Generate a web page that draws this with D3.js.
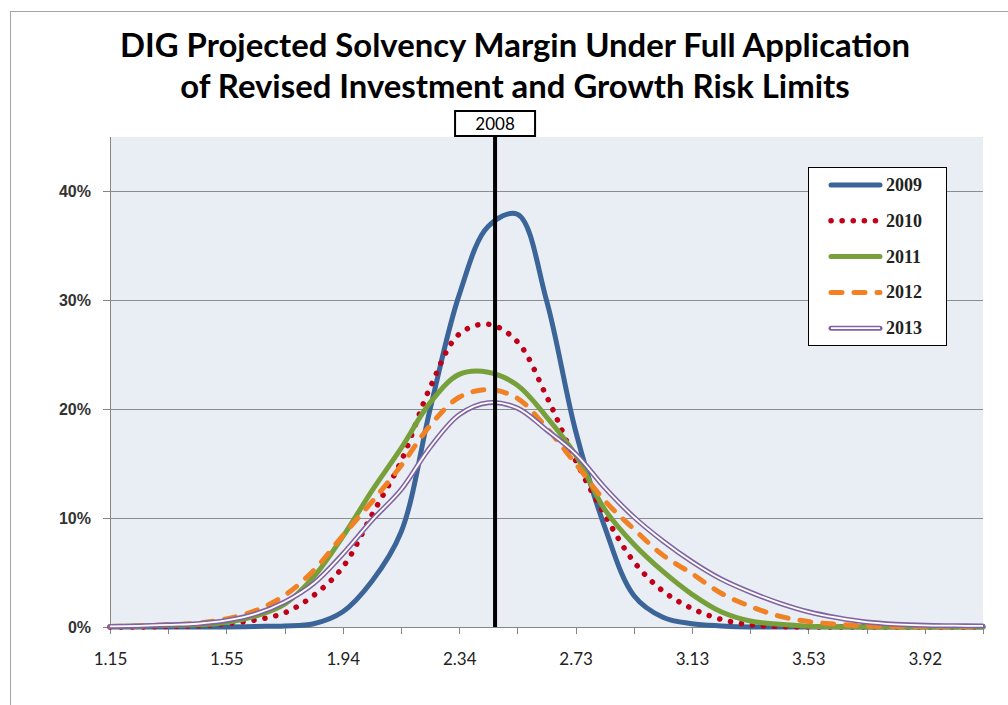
<!DOCTYPE html>
<html>
<head>
<meta charset="utf-8">
<style>
body { margin: 0; background: #fff; }
svg { display: block; }
.axis path, .axis line { stroke: #868686; shape-rendering: crispEdges; }
</style>
</head>
<body>
<svg id="chart" width="1008" height="705"></svg>
<script src="https://cdn.jsdelivr.net/npm/d3@7"></script>
<script>
// category positions on the x axis (every second one has a tick, every fourth a label)
var xValues = [1.15, 1.249, 1.348, 1.447, 1.546, 1.645, 1.744, 1.843, 1.942, 2.041,
  2.14, 2.239, 2.338, 2.437, 2.536, 2.635, 2.734, 2.833, 2.932, 3.031,
  3.13, 3.229, 3.328, 3.427, 3.526, 3.625, 3.724, 3.823, 3.922, 4.021, 4.12];
var xLabels = ["1.15", "1.55", "1.94", "2.34", "2.73", "3.13", "3.53", "3.92"];
var yTicks = [0, 10, 20, 30, 40];

var years = ["2009", "2010", "2011", "2012", "2013"];

// percent values
var v2009 = [0, 0, 0, 0, 0, 0.05, 0.1, 0.3, 1.4, 4.2,
  8.7, 20, 30.5, 36.8, 37.9, 30, 18, 9.2, 2.9, 0.9,
  0.3, 0.1, 0, 0, 0, 0, 0, 0, 0, 0, 0];
var v2010 = [0, 0, 0.05, 0.1, 0.3, 0.65, 1.3, 2.9, 5.5, 10.3,
  15.2, 22, 26.9, 27.8, 26.2, 21.2, 15.3, 10.3, 6.0, 3.3,
  1.7, 0.7, 0.2, 0.05, 0, 0, 0, 0, 0, 0, 0];
var v2011 = [0.05, 0.1, 0.15, 0.2, 0.4, 1.0, 2.1, 4.6, 8.3, 12.5,
  16.4, 20.6, 23.2, 23.4, 22.2, 19.3, 15.8, 10.8, 7.6, 5.1,
  3.0, 1.4, 0.55, 0.25, 0.08, 0.03, 0, 0, 0, 0, 0];
var v2012 = [0.05, 0.1, 0.2, 0.35, 0.75, 1.5, 2.9, 5.2, 8.4, 11.5,
  14.8, 18.5, 21.1, 21.8, 21.0, 18.3, 15.0, 11.6, 9.0, 6.6,
  4.9, 3.1, 1.9, 1.0, 0.5, 0.25, 0.1, 0.05, 0.05, 0.05, 0.05];
var v2013 = [0.05, 0.1, 0.2, 0.3, 0.6, 1.2, 2.3, 4.0, 6.7, 9.8,
  12.6, 16.5, 19.5, 20.6, 20.1, 18.1, 15.9, 12.8, 10.1, 7.9,
  6.0, 4.4, 3.2, 2.2, 1.4, 0.85, 0.45, 0.25, 0.15, 0.12, 0.1];

var markerValue = 2.46;
var markerLabel = "2008";

var seriesValues = [v2009, v2010, v2011, v2012, v2013];

var styles = [
  {color: "#3b6498", width: 5, dash: null, cap: "round"},
  {color: "#c00018", width: 5.5, dash: "0.1 11", cap: "round"},
  {color: "#77a03b", width: 5, dash: null, cap: "round"},
  {color: "#f08124", width: 5, dash: "11 12", cap: "round"},
  {color: "#8064a2", width: 5, dash: null, cap: "round", double: true}
];

var svg = d3.select("#chart");

var x = d3.scaleLinear().domain([xValues[0], xValues[xValues.length - 1]]).range([110, 983]);
var y = d3.scaleLinear().domain([0, 45]).range([627, 137]);

// outer chart border
svg.append("rect")
  .attr("x", 10.5).attr("y", 11.5).attr("width", 1100).attr("height", 800)
  .attr("fill", "none").attr("stroke", "#a6a6a6");

// title
var title = svg.append("g").attr("font-family", "Lato, sans-serif").attr("font-weight", "bold");
var t1 = title.append("text").attr("x", 515).attr("y", 57).attr("text-anchor", "middle")
  .attr("font-size", 28).text("DIG Projected Solvency Margin Under Full Application");
var t2 = title.append("text").attr("x", 515).attr("y", 98).attr("text-anchor", "middle")
  .attr("font-size", 28).text("of Revised Investment and Growth Risk Limits");
var fs = 28 * 790 / t1.node().getComputedTextLength();
t1.attr("font-size", fs);
t2.attr("font-size", fs);

// plot background
svg.append("rect")
  .attr("x", x.range()[0]).attr("y", y(45))
  .attr("width", x.range()[1] - x.range()[0]).attr("height", y(0) - y(45))
  .attr("fill", "#e9edf4");

// gridlines
svg.append("g").selectAll("line")
  .data(yTicks.slice(1))
  .join("line")
  .attr("x1", x.range()[0]).attr("x2", x.range()[1])
  .attr("y1", function(d) { return Math.round(y(d)) + 0.5; })
  .attr("y2", function(d) { return Math.round(y(d)) + 0.5; })
  .attr("stroke", "#8c8c8c");

// axes
var tickVals = xValues.filter(function(d, i) { return i % 2 === 0; });
var xAxis = d3.axisBottom(x).tickValues(tickVals).tickSize(7).tickPadding(19)
  .tickFormat(function(d, i) { return i % 2 === 0 ? xLabels[i / 2] : ""; });
var gx = svg.append("g").attr("class", "x axis")
  .attr("transform", "translate(0," + y(0) + ")")
  .call(xAxis);
gx.attr("font-family", "Lato, sans-serif").attr("font-size", 17);
gx.selectAll("text").attr("fill", "#222");

var yAxis = d3.axisLeft(y).tickValues(yTicks).tickSize(7).tickPadding(12)
  .tickFormat(function(d) { return d + "%"; });
var gy = svg.append("g").attr("class", "y axis")
  .attr("transform", "translate(" + x.range()[0] + ",0)")
  .call(yAxis);
gy.attr("font-family", "Liberation Sans, sans-serif").attr("font-size", 16).attr("font-weight", "bold");
gy.selectAll("text").attr("fill", "#333");
gy.select(".domain").remove();
svg.append("line")
  .attr("x1", x.range()[0] + 0.5).attr("x2", x.range()[0] + 0.5)
  .attr("y1", y(45)).attr("y2", y(0))
  .attr("stroke", "#868686");

// series
var line = d3.line()
  .x(function(d, i) { return x(xValues[i]); })
  .y(function(d) { return y(d); })
  .curve(d3.curveCatmullRom.alpha(0.5));

var plot = svg.append("g");
seriesValues.forEach(function(vals, k) {
  var s = styles[k];
  plot.append("path")
    .datum(vals)
    .attr("d", line)
    .attr("fill", "none")
    .attr("stroke", s.color)
    .attr("stroke-width", s.width)
    .attr("stroke-linecap", s.cap)
    .attr("stroke-linejoin", "round")
    .attr("stroke-dasharray", s.dash);
  if (s.double) {
    plot.append("path")
      .datum(vals)
      .attr("d", line)
      .attr("fill", "none")
      .attr("stroke", "#ffffff")
      .attr("stroke-width", 1.8);
  }
});

// 2008 marker
var mx = x(markerValue);
svg.append("line")
  .attr("x1", mx).attr("x2", mx)
  .attr("y1", 136).attr("y2", y(0))
  .attr("stroke", "#000").attr("stroke-width", 4);
svg.append("rect")
  .attr("x", mx - 40).attr("y", 111).attr("width", 80).attr("height", 25)
  .attr("fill", "#fff").attr("stroke", "#000").attr("stroke-width", 2);
svg.append("text")
  .attr("x", mx).attr("y", 130).attr("text-anchor", "middle")
  .attr("font-family", "Lato, sans-serif").attr("font-size", 17)
  .text(markerLabel);

// legend
var legend = svg.append("g");
legend.append("rect")
  .attr("x", 808.5).attr("y", 167.5).attr("width", 138).attr("height", 178)
  .attr("fill", "#fff").attr("stroke", "#000");

var row = legend.selectAll("g.item")
  .data(years)
  .join("g")
  .attr("class", "item")
  .attr("transform", function(d, i) { return "translate(0," + (185 + i * 35.8) + ")"; });

row.append("line")
  .attr("x1", 831).attr("x2", 880)
  .attr("stroke", function(d, i) { return styles[i].color; })
  .attr("stroke-width", function(d, i) { return styles[i].width; })
  .attr("stroke-linecap", function(d, i) { return styles[i].cap; })
  .attr("stroke-dasharray", function(d, i) { return styles[i].dash; });
row.filter(function(d, i) { return styles[i].double; })
  .append("line")
  .attr("x1", 831).attr("x2", 880)
  .attr("stroke", "#fff").attr("stroke-width", 1.8);

row.append("text")
  .attr("x", 886).attr("y", 6)
  .attr("font-family", "Liberation Serif, serif").attr("font-size", 18)
  .attr("font-weight", "bold")
  .attr("fill", "#222")
  .text(function(d) { return d; });
</script>
</body>
</html>
